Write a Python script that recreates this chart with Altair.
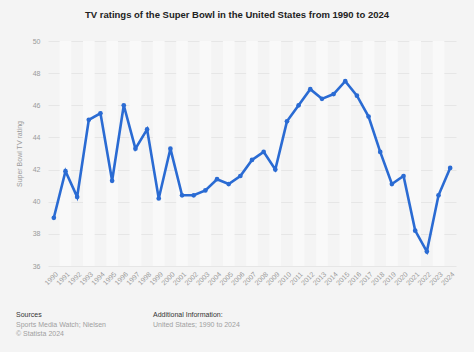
import altair as alt
import pandas as pd

years = list(range(1990, 2025))
ratings = [39.0, 41.9, 40.3, 45.1, 45.5, 41.3, 46.0, 43.3, 44.5, 40.2,
           43.3, 40.4, 40.4, 40.7, 41.4, 41.1, 41.6, 42.6, 43.1, 42.0,
           45.0, 46.0, 47.0, 46.4, 46.7, 47.5, 46.6, 45.3, 43.1, 41.1,
           41.6, 38.2, 36.9, 40.4, 42.1]
y_ticks = [36, 38, 40, 42, 44, 46, 48, 50]

title_text = "TV ratings of the Super Bowl in the United States from 1990 to 2024"
y_title = "Super Bowl TV rating"

df = pd.DataFrame({"year": years, "rating": ratings})
df["x0"] = df["year"] - 0.5
df["x1"] = df["year"] + 0.5
df["band"] = [i % 2 for i in range(len(years))]

W, H = 408, 225
FONT = "Liberation Sans"

xs = alt.Scale(domain=[1989.5, 2024.5], nice=False, zero=False)
ys = alt.Scale(domain=[36, 50], nice=False, zero=False)

grid_axis = alt.Axis(
    values=y_ticks, grid=True, gridColor="#e6e6e6", gridWidth=1,
    domain=False, ticks=False, labelColor="#9a9a9a", labelFontSize=7,
    labelFont=FONT, labelPadding=8, title=y_title, titleColor="#9a9a9a",
    titleFontSize=7, titleFont=FONT, titleFontWeight="normal", titlePadding=10,
)

x_axis = alt.Axis(
    values=years, format="d", labelAngle=-45, labelColor="#9a9a9a",
    labelFontSize=7, labelFont=FONT, domain=False, ticks=False, grid=False,
    labelPadding=4, title=None, labelAlign="right", labelBaseline="top",
    labelOverlap=False, labelFlush=False,
)

bands = alt.Chart(df).transform_filter("datum.band == 1").mark_rect(
    color="#f9f9f9"
).encode(
    x=alt.X("x0:Q", scale=xs, axis=x_axis),
    x2="x1:Q",
    y=alt.value(0),
    y2=alt.value(H),
)

line = alt.Chart(df).mark_line(
    color="#2a6bd3", strokeWidth=2.6,
    point=alt.OverlayMarkDef(color="#2a6bd3", size=22, filled=True, opacity=1),
).encode(
    x=alt.X("year:Q", scale=xs, axis=x_axis),
    y=alt.Y("rating:Q", scale=ys, axis=grid_axis),
)

foot = pd.DataFrame({
    "t": ["Sources", "Sports Media Watch; Nielsen", "© Statista 2024",
          "Additional Information:", "United States; 1990 to 2024"],
    "px": [-32, -32, -32, 105, 105],
    "py": [49, 59, 68, 49, 59],
    "c": ["#333333", "#a0a0a0", "#a0a0a0", "#333333", "#a0a0a0"],
})
foot["py"] = foot["py"] + H

footer = alt.Chart(foot).mark_text(
    align="left", baseline="middle", fontSize=7, font=FONT
).encode(
    x=alt.X("px:Q", scale=None),
    y=alt.Y("py:Q", scale=None),
    text="t:N",
    color=alt.Color("c:N", scale=None),
)

chart = alt.layer(bands, line, footer).properties(
    width=W, height=H,
    background="#f4f4f4",
    padding={"left": 48, "top": 41, "right": 18, "bottom": 86},
    autosize=alt.AutoSizeParams(type="none"),
    title=alt.TitleParams(
        text=title_text, anchor="middle", dx=-15, offset=18,
        fontSize=9.5, font=FONT, fontWeight="bold", color="#222222",
    ),
).configure_view(stroke=None)

chart.save("out.html", embed_options={"renderer": "svg", "actions": False})
